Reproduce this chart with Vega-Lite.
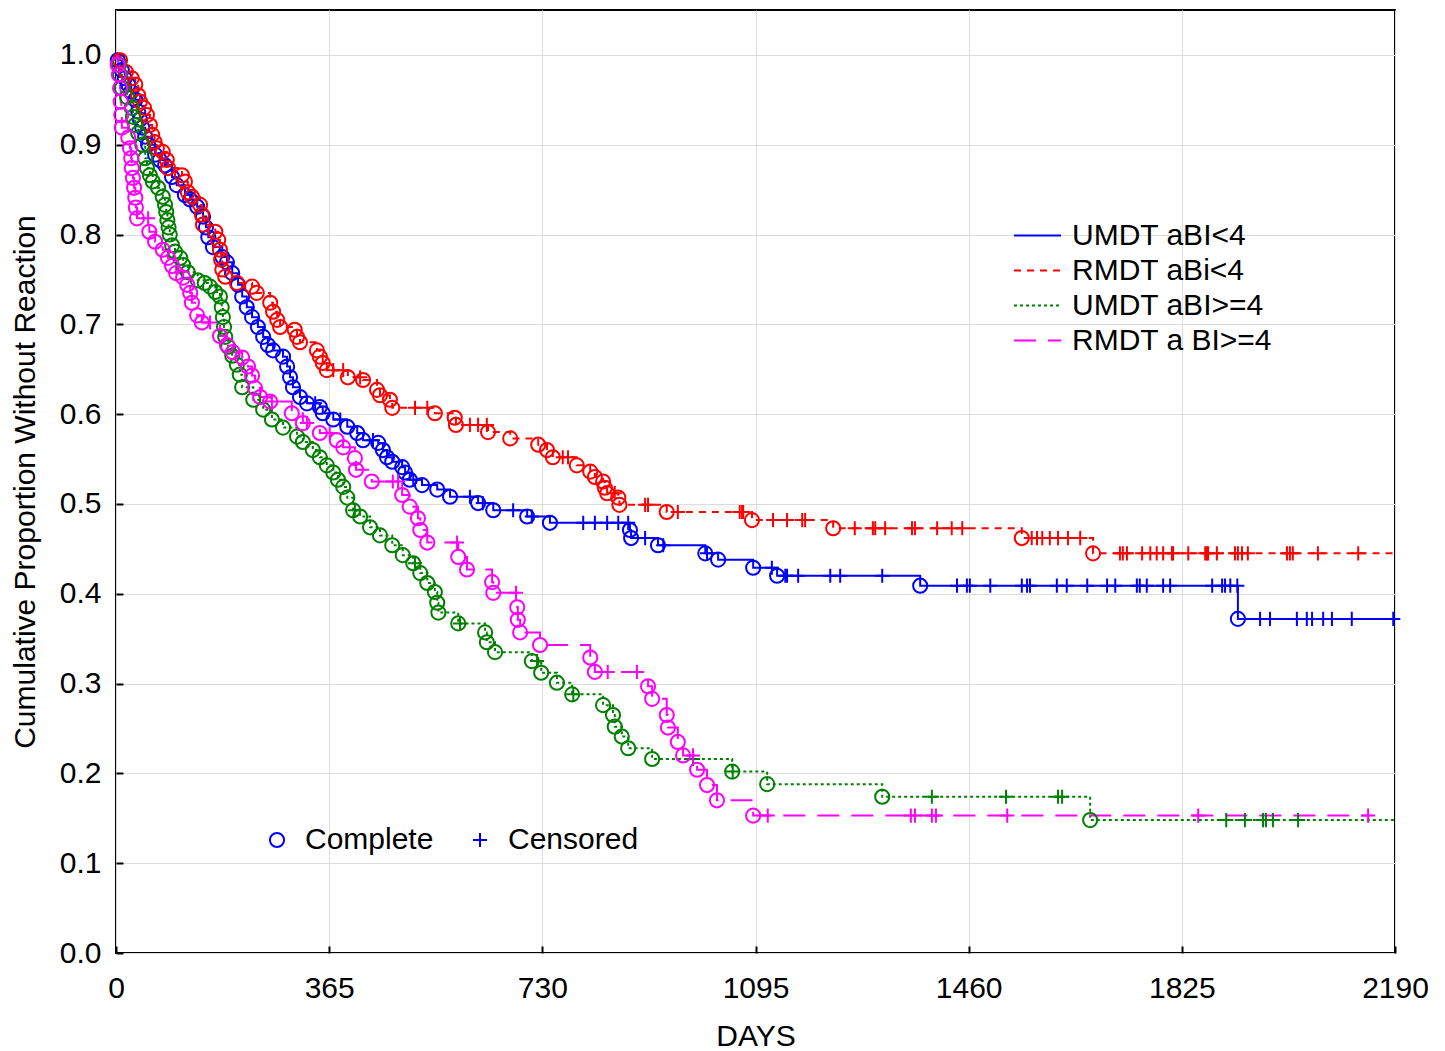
{
"$schema": "https://vega.github.io/schema/vega-lite/v6.json",
"width": 1279, "height": 943,
"autosize": {"type": "none"},
"padding": {"left": 116, "top": 10, "right": 50, "bottom": 98},
"background": "white",
"config": {"view": {"stroke": "black", "strokeWidth": 2}, "font": "Liberation Sans"},
"datasets": {"km": [
{"group":"UMDT aBI<4","day":0,"surv":1.0,"type":"none"},
{"group":"UMDT aBI<4","day":3,"surv":0.994,"type":"Complete"},
{"group":"UMDT aBI<4","day":10,"surv":0.983,"type":"Complete"},
{"group":"UMDT aBI<4","day":15,"surv":0.974,"type":"Complete"},
{"group":"UMDT aBI<4","day":21,"surv":0.967,"type":"Complete"},
{"group":"UMDT aBI<4","day":26,"surv":0.959,"type":"Complete"},
{"group":"UMDT aBI<4","day":33,"surv":0.950,"type":"Complete"},
{"group":"UMDT aBI<4","day":38,"surv":0.937,"type":"Complete"},
{"group":"UMDT aBI<4","day":41,"surv":0.928,"type":"Complete"},
{"group":"UMDT aBI<4","day":45,"surv":0.919,"type":"Complete"},
{"group":"UMDT aBI<4","day":50,"surv":0.909,"type":"Complete"},
{"group":"UMDT aBI<4","day":55,"surv":0.900,"type":"Complete"},
{"group":"UMDT aBI<4","day":67,"surv":0.889,"type":"Complete"},
{"group":"UMDT aBI<4","day":75,"surv":0.883,"type":"Complete"},
{"group":"UMDT aBI<4","day":84,"surv":0.877,"type":"Complete"},
{"group":"UMDT aBI<4","day":96,"surv":0.864,"type":"Complete"},
{"group":"UMDT aBI<4","day":104,"surv":0.855,"type":"Complete"},
{"group":"UMDT aBI<4","day":118,"surv":0.844,"type":"Complete"},
{"group":"UMDT aBI<4","day":127,"surv":0.839,"type":"Complete"},
{"group":"UMDT aBI<4","day":139,"surv":0.831,"type":"Complete"},
{"group":"UMDT aBI<4","day":149,"surv":0.820,"type":"Complete"},
{"group":"UMDT aBI<4","day":154,"surv":0.808,"type":"Complete"},
{"group":"UMDT aBI<4","day":158,"surv":0.797,"type":"Complete"},
{"group":"UMDT aBI<4","day":166,"surv":0.786,"type":"Complete"},
{"group":"UMDT aBI<4","day":182,"surv":0.775,"type":"Complete"},
{"group":"UMDT aBI<4","day":190,"surv":0.769,"type":"Complete"},
{"group":"UMDT aBI<4","day":199,"surv":0.757,"type":"Complete"},
{"group":"UMDT aBI<4","day":209,"surv":0.744,"type":"Complete"},
{"group":"UMDT aBI<4","day":216,"surv":0.731,"type":"Complete"},
{"group":"UMDT aBI<4","day":224,"surv":0.719,"type":"Complete"},
{"group":"UMDT aBI<4","day":233,"surv":0.708,"type":"Complete"},
{"group":"UMDT aBI<4","day":243,"surv":0.697,"type":"Complete"},
{"group":"UMDT aBI<4","day":252,"surv":0.686,"type":"Complete"},
{"group":"UMDT aBI<4","day":260,"surv":0.677,"type":"Complete"},
{"group":"UMDT aBI<4","day":269,"surv":0.671,"type":"Complete"},
{"group":"UMDT aBI<4","day":286,"surv":0.664,"type":"Complete"},
{"group":"UMDT aBI<4","day":293,"surv":0.653,"type":"Complete"},
{"group":"UMDT aBI<4","day":298,"surv":0.641,"type":"Complete"},
{"group":"UMDT aBI<4","day":303,"surv":0.630,"type":"Complete"},
{"group":"UMDT aBI<4","day":315,"surv":0.619,"type":"Complete"},
{"group":"UMDT aBI<4","day":327,"surv":0.612,"type":"Complete"},
{"group":"UMDT aBI<4","day":341,"surv":0.612,"type":"Censored"},
{"group":"UMDT aBI<4","day":349,"surv":0.608,"type":"Complete"},
{"group":"UMDT aBI<4","day":354,"surv":0.601,"type":"Complete"},
{"group":"UMDT aBI<4","day":372,"surv":0.594,"type":"Complete"},
{"group":"UMDT aBI<4","day":384,"surv":0.594,"type":"Censored"},
{"group":"UMDT aBI<4","day":396,"surv":0.586,"type":"Complete"},
{"group":"UMDT aBI<4","day":413,"surv":0.579,"type":"Complete"},
{"group":"UMDT aBI<4","day":423,"surv":0.571,"type":"Complete"},
{"group":"UMDT aBI<4","day":440,"surv":0.571,"type":"Censored"},
{"group":"UMDT aBI<4","day":449,"surv":0.568,"type":"Complete"},
{"group":"UMDT aBI<4","day":457,"surv":0.560,"type":"Complete"},
{"group":"UMDT aBI<4","day":464,"surv":0.552,"type":"Complete"},
{"group":"UMDT aBI<4","day":473,"surv":0.547,"type":"Complete"},
{"group":"UMDT aBI<4","day":490,"surv":0.541,"type":"Complete"},
{"group":"UMDT aBI<4","day":495,"surv":0.535,"type":"Complete"},
{"group":"UMDT aBI<4","day":503,"surv":0.527,"type":"Complete"},
{"group":"UMDT aBI<4","day":509,"surv":0.527,"type":"Censored"},
{"group":"UMDT aBI<4","day":524,"surv":0.521,"type":"Complete"},
{"group":"UMDT aBI<4","day":550,"surv":0.516,"type":"Complete"},
{"group":"UMDT aBI<4","day":572,"surv":0.508,"type":"Complete"},
{"group":"UMDT aBI<4","day":606,"surv":0.508,"type":"Censored"},
{"group":"UMDT aBI<4","day":620,"surv":0.501,"type":"Complete"},
{"group":"UMDT aBI<4","day":628,"surv":0.501,"type":"Censored"},
{"group":"UMDT aBI<4","day":646,"surv":0.493,"type":"Complete"},
{"group":"UMDT aBI<4","day":680,"surv":0.493,"type":"Censored"},
{"group":"UMDT aBI<4","day":704,"surv":0.486,"type":"Complete"},
{"group":"UMDT aBI<4","day":712,"surv":0.486,"type":"Censored"},
{"group":"UMDT aBI<4","day":743,"surv":0.479,"type":"Complete"},
{"group":"UMDT aBI<4","day":800,"surv":0.479,"type":"Censored"},
{"group":"UMDT aBI<4","day":820,"surv":0.479,"type":"Censored"},
{"group":"UMDT aBI<4","day":841,"surv":0.479,"type":"Censored"},
{"group":"UMDT aBI<4","day":860,"surv":0.479,"type":"Censored"},
{"group":"UMDT aBI<4","day":877,"surv":0.479,"type":"Censored"},
{"group":"UMDT aBI<4","day":880,"surv":0.471,"type":"Complete"},
{"group":"UMDT aBI<4","day":882,"surv":0.462,"type":"Complete"},
{"group":"UMDT aBI<4","day":906,"surv":0.462,"type":"Censored"},
{"group":"UMDT aBI<4","day":928,"surv":0.454,"type":"Complete"},
{"group":"UMDT aBI<4","day":937,"surv":0.454,"type":"Censored"},
{"group":"UMDT aBI<4","day":1009,"surv":0.445,"type":"Complete"},
{"group":"UMDT aBI<4","day":1012,"surv":0.445,"type":"Censored"},
{"group":"UMDT aBI<4","day":1031,"surv":0.438,"type":"Complete"},
{"group":"UMDT aBI<4","day":1091,"surv":0.429,"type":"Complete"},
{"group":"UMDT aBI<4","day":1123,"surv":0.429,"type":"Censored"},
{"group":"UMDT aBI<4","day":1132,"surv":0.420,"type":"Complete"},
{"group":"UMDT aBI<4","day":1146,"surv":0.420,"type":"Censored"},
{"group":"UMDT aBI<4","day":1149,"surv":0.420,"type":"Censored"},
{"group":"UMDT aBI<4","day":1168,"surv":0.420,"type":"Censored"},
{"group":"UMDT aBI<4","day":1223,"surv":0.420,"type":"Censored"},
{"group":"UMDT aBI<4","day":1240,"surv":0.420,"type":"Censored"},
{"group":"UMDT aBI<4","day":1312,"surv":0.420,"type":"Censored"},
{"group":"UMDT aBI<4","day":1377,"surv":0.409,"type":"Complete"},
{"group":"UMDT aBI<4","day":1440,"surv":0.409,"type":"Censored"},
{"group":"UMDT aBI<4","day":1457,"surv":0.409,"type":"Censored"},
{"group":"UMDT aBI<4","day":1462,"surv":0.409,"type":"Censored"},
{"group":"UMDT aBI<4","day":1497,"surv":0.409,"type":"Censored"},
{"group":"UMDT aBI<4","day":1551,"surv":0.409,"type":"Censored"},
{"group":"UMDT aBI<4","day":1560,"surv":0.409,"type":"Censored"},
{"group":"UMDT aBI<4","day":1565,"surv":0.409,"type":"Censored"},
{"group":"UMDT aBI<4","day":1611,"surv":0.409,"type":"Censored"},
{"group":"UMDT aBI<4","day":1628,"surv":0.409,"type":"Censored"},
{"group":"UMDT aBI<4","day":1663,"surv":0.409,"type":"Censored"},
{"group":"UMDT aBI<4","day":1697,"surv":0.409,"type":"Censored"},
{"group":"UMDT aBI<4","day":1711,"surv":0.409,"type":"Censored"},
{"group":"UMDT aBI<4","day":1748,"surv":0.409,"type":"Censored"},
{"group":"UMDT aBI<4","day":1753,"surv":0.409,"type":"Censored"},
{"group":"UMDT aBI<4","day":1765,"surv":0.409,"type":"Censored"},
{"group":"UMDT aBI<4","day":1793,"surv":0.409,"type":"Censored"},
{"group":"UMDT aBI<4","day":1805,"surv":0.409,"type":"Censored"},
{"group":"UMDT aBI<4","day":1877,"surv":0.409,"type":"Censored"},
{"group":"UMDT aBI<4","day":1894,"surv":0.409,"type":"Censored"},
{"group":"UMDT aBI<4","day":1899,"surv":0.409,"type":"Censored"},
{"group":"UMDT aBI<4","day":1908,"surv":0.409,"type":"Censored"},
{"group":"UMDT aBI<4","day":1920,"surv":0.409,"type":"Censored"},
{"group":"UMDT aBI<4","day":1921,"surv":0.372,"type":"Complete"},
{"group":"UMDT aBI<4","day":1959,"surv":0.372,"type":"Censored"},
{"group":"UMDT aBI<4","day":1976,"surv":0.372,"type":"Censored"},
{"group":"UMDT aBI<4","day":2022,"surv":0.372,"type":"Censored"},
{"group":"UMDT aBI<4","day":2039,"surv":0.372,"type":"Censored"},
{"group":"UMDT aBI<4","day":2048,"surv":0.372,"type":"Censored"},
{"group":"UMDT aBI<4","day":2067,"surv":0.372,"type":"Censored"},
{"group":"UMDT aBI<4","day":2082,"surv":0.372,"type":"Censored"},
{"group":"UMDT aBI<4","day":2116,"surv":0.372,"type":"Censored"},
{"group":"UMDT aBI<4","day":2187,"surv":0.372,"type":"Censored"},

{"group":"RMDT aBi<4","day":0,"surv":1.0,"type":"none"},
{"group":"RMDT aBi<4","day":7,"surv":0.994,"type":"Complete"},
{"group":"RMDT aBi<4","day":17,"surv":0.981,"type":"Complete"},
{"group":"RMDT aBi<4","day":27,"surv":0.974,"type":"Complete"},
{"group":"RMDT aBi<4","day":33,"surv":0.967,"type":"Complete"},
{"group":"RMDT aBi<4","day":38,"surv":0.955,"type":"Complete"},
{"group":"RMDT aBi<4","day":41,"surv":0.948,"type":"Complete"},
{"group":"RMDT aBi<4","day":48,"surv":0.941,"type":"Complete"},
{"group":"RMDT aBi<4","day":53,"surv":0.933,"type":"Complete"},
{"group":"RMDT aBi<4","day":58,"surv":0.922,"type":"Complete"},
{"group":"RMDT aBi<4","day":62,"surv":0.911,"type":"Complete"},
{"group":"RMDT aBi<4","day":66,"surv":0.903,"type":"Complete"},
{"group":"RMDT aBi<4","day":70,"surv":0.896,"type":"Complete"},
{"group":"RMDT aBi<4","day":80,"surv":0.892,"type":"Complete"},
{"group":"RMDT aBi<4","day":87,"surv":0.883,"type":"Complete"},
{"group":"RMDT aBi<4","day":89,"surv":0.874,"type":"Complete"},
{"group":"RMDT aBi<4","day":113,"surv":0.866,"type":"Complete"},
{"group":"RMDT aBi<4","day":118,"surv":0.859,"type":"Complete"},
{"group":"RMDT aBi<4","day":123,"surv":0.847,"type":"Complete"},
{"group":"RMDT aBi<4","day":130,"surv":0.842,"type":"Complete"},
{"group":"RMDT aBi<4","day":144,"surv":0.833,"type":"Complete"},
{"group":"RMDT aBi<4","day":147,"surv":0.822,"type":"Complete"},
{"group":"RMDT aBi<4","day":149,"surv":0.811,"type":"Complete"},
{"group":"RMDT aBi<4","day":170,"surv":0.803,"type":"Complete"},
{"group":"RMDT aBi<4","day":175,"surv":0.794,"type":"Complete"},
{"group":"RMDT aBi<4","day":178,"surv":0.783,"type":"Complete"},
{"group":"RMDT aBi<4","day":180,"surv":0.772,"type":"Complete"},
{"group":"RMDT aBi<4","day":182,"surv":0.761,"type":"Complete"},
{"group":"RMDT aBi<4","day":187,"surv":0.753,"type":"Complete"},
{"group":"RMDT aBi<4","day":207,"surv":0.746,"type":"Complete"},
{"group":"RMDT aBi<4","day":233,"surv":0.742,"type":"Complete"},
{"group":"RMDT aBi<4","day":241,"surv":0.735,"type":"Complete"},
{"group":"RMDT aBi<4","day":264,"surv":0.724,"type":"Complete"},
{"group":"RMDT aBi<4","day":269,"surv":0.714,"type":"Complete"},
{"group":"RMDT aBi<4","day":276,"surv":0.705,"type":"Complete"},
{"group":"RMDT aBi<4","day":281,"surv":0.697,"type":"Complete"},
{"group":"RMDT aBi<4","day":306,"surv":0.694,"type":"Complete"},
{"group":"RMDT aBi<4","day":310,"surv":0.686,"type":"Complete"},
{"group":"RMDT aBi<4","day":315,"surv":0.680,"type":"Complete"},
{"group":"RMDT aBi<4","day":344,"surv":0.671,"type":"Complete"},
{"group":"RMDT aBi<4","day":349,"surv":0.664,"type":"Complete"},
{"group":"RMDT aBi<4","day":354,"surv":0.657,"type":"Complete"},
{"group":"RMDT aBi<4","day":361,"surv":0.649,"type":"Complete"},
{"group":"RMDT aBi<4","day":372,"surv":0.649,"type":"Censored"},
{"group":"RMDT aBi<4","day":389,"surv":0.649,"type":"Censored"},
{"group":"RMDT aBi<4","day":397,"surv":0.641,"type":"Complete"},
{"group":"RMDT aBi<4","day":418,"surv":0.641,"type":"Censored"},
{"group":"RMDT aBi<4","day":423,"surv":0.638,"type":"Complete"},
{"group":"RMDT aBi<4","day":447,"surv":0.627,"type":"Complete"},
{"group":"RMDT aBi<4","day":452,"surv":0.621,"type":"Complete"},
{"group":"RMDT aBi<4","day":469,"surv":0.616,"type":"Complete"},
{"group":"RMDT aBi<4","day":473,"surv":0.607,"type":"Complete"},
{"group":"RMDT aBi<4","day":512,"surv":0.607,"type":"Censored"},
{"group":"RMDT aBi<4","day":533,"surv":0.607,"type":"Censored"},
{"group":"RMDT aBi<4","day":546,"surv":0.601,"type":"Complete"},
{"group":"RMDT aBi<4","day":580,"surv":0.596,"type":"Complete"},
{"group":"RMDT aBi<4","day":582,"surv":0.588,"type":"Complete"},
{"group":"RMDT aBi<4","day":606,"surv":0.588,"type":"Censored"},
{"group":"RMDT aBi<4","day":620,"surv":0.588,"type":"Censored"},
{"group":"RMDT aBi<4","day":635,"surv":0.588,"type":"Censored"},
{"group":"RMDT aBi<4","day":637,"surv":0.580,"type":"Complete"},
{"group":"RMDT aBi<4","day":675,"surv":0.573,"type":"Complete"},
{"group":"RMDT aBi<4","day":723,"surv":0.566,"type":"Complete"},
{"group":"RMDT aBi<4","day":738,"surv":0.560,"type":"Complete"},
{"group":"RMDT aBi<4","day":748,"surv":0.552,"type":"Complete"},
{"group":"RMDT aBi<4","day":765,"surv":0.552,"type":"Censored"},
{"group":"RMDT aBi<4","day":774,"surv":0.552,"type":"Censored"},
{"group":"RMDT aBi<4","day":789,"surv":0.543,"type":"Complete"},
{"group":"RMDT aBi<4","day":812,"surv":0.536,"type":"Complete"},
{"group":"RMDT aBi<4","day":820,"surv":0.530,"type":"Complete"},
{"group":"RMDT aBi<4","day":834,"surv":0.525,"type":"Complete"},
{"group":"RMDT aBi<4","day":837,"surv":0.518,"type":"Complete"},
{"group":"RMDT aBi<4","day":841,"surv":0.512,"type":"Complete"},
{"group":"RMDT aBi<4","day":854,"surv":0.512,"type":"Censored"},
{"group":"RMDT aBi<4","day":860,"surv":0.507,"type":"Complete"},
{"group":"RMDT aBi<4","day":862,"surv":0.499,"type":"Complete"},
{"group":"RMDT aBi<4","day":906,"surv":0.499,"type":"Censored"},
{"group":"RMDT aBi<4","day":911,"surv":0.499,"type":"Censored"},
{"group":"RMDT aBi<4","day":943,"surv":0.491,"type":"Complete"},
{"group":"RMDT aBi<4","day":962,"surv":0.491,"type":"Censored"},
{"group":"RMDT aBi<4","day":1068,"surv":0.491,"type":"Censored"},
{"group":"RMDT aBi<4","day":1072,"surv":0.491,"type":"Censored"},
{"group":"RMDT aBi<4","day":1074,"surv":0.491,"type":"Censored"},
{"group":"RMDT aBi<4","day":1089,"surv":0.482,"type":"Complete"},
{"group":"RMDT aBi<4","day":1125,"surv":0.482,"type":"Censored"},
{"group":"RMDT aBi<4","day":1149,"surv":0.482,"type":"Censored"},
{"group":"RMDT aBi<4","day":1175,"surv":0.482,"type":"Censored"},
{"group":"RMDT aBi<4","day":1180,"surv":0.482,"type":"Censored"},
{"group":"RMDT aBi<4","day":1228,"surv":0.473,"type":"Complete"},
{"group":"RMDT aBi<4","day":1265,"surv":0.473,"type":"Censored"},
{"group":"RMDT aBi<4","day":1296,"surv":0.473,"type":"Censored"},
{"group":"RMDT aBi<4","day":1300,"surv":0.473,"type":"Censored"},
{"group":"RMDT aBi<4","day":1317,"surv":0.473,"type":"Censored"},
{"group":"RMDT aBi<4","day":1363,"surv":0.473,"type":"Censored"},
{"group":"RMDT aBi<4","day":1368,"surv":0.473,"type":"Censored"},
{"group":"RMDT aBi<4","day":1406,"surv":0.473,"type":"Censored"},
{"group":"RMDT aBi<4","day":1431,"surv":0.473,"type":"Censored"},
{"group":"RMDT aBi<4","day":1449,"surv":0.473,"type":"Censored"},
{"group":"RMDT aBi<4","day":1551,"surv":0.462,"type":"Complete"},
{"group":"RMDT aBi<4","day":1568,"surv":0.462,"type":"Censored"},
{"group":"RMDT aBi<4","day":1577,"surv":0.462,"type":"Censored"},
{"group":"RMDT aBi<4","day":1586,"surv":0.462,"type":"Censored"},
{"group":"RMDT aBi<4","day":1599,"surv":0.462,"type":"Censored"},
{"group":"RMDT aBi<4","day":1613,"surv":0.462,"type":"Censored"},
{"group":"RMDT aBi<4","day":1630,"surv":0.462,"type":"Censored"},
{"group":"RMDT aBi<4","day":1651,"surv":0.462,"type":"Censored"},
{"group":"RMDT aBi<4","day":1673,"surv":0.445,"type":"Complete"},
{"group":"RMDT aBi<4","day":1719,"surv":0.445,"type":"Censored"},
{"group":"RMDT aBi<4","day":1724,"surv":0.445,"type":"Censored"},
{"group":"RMDT aBi<4","day":1731,"surv":0.445,"type":"Censored"},
{"group":"RMDT aBi<4","day":1757,"surv":0.445,"type":"Censored"},
{"group":"RMDT aBi<4","day":1771,"surv":0.445,"type":"Censored"},
{"group":"RMDT aBi<4","day":1782,"surv":0.445,"type":"Censored"},
{"group":"RMDT aBi<4","day":1793,"surv":0.445,"type":"Censored"},
{"group":"RMDT aBi<4","day":1808,"surv":0.445,"type":"Censored"},
{"group":"RMDT aBi<4","day":1810,"surv":0.445,"type":"Censored"},
{"group":"RMDT aBi<4","day":1836,"surv":0.445,"type":"Censored"},
{"group":"RMDT aBi<4","day":1865,"surv":0.445,"type":"Censored"},
{"group":"RMDT aBi<4","day":1868,"surv":0.445,"type":"Censored"},
{"group":"RMDT aBi<4","day":1870,"surv":0.445,"type":"Censored"},
{"group":"RMDT aBi<4","day":1885,"surv":0.445,"type":"Censored"},
{"group":"RMDT aBi<4","day":1916,"surv":0.445,"type":"Censored"},
{"group":"RMDT aBi<4","day":1921,"surv":0.445,"type":"Censored"},
{"group":"RMDT aBi<4","day":1928,"surv":0.445,"type":"Censored"},
{"group":"RMDT aBi<4","day":1938,"surv":0.445,"type":"Censored"},
{"group":"RMDT aBi<4","day":2005,"surv":0.445,"type":"Censored"},
{"group":"RMDT aBi<4","day":2010,"surv":0.445,"type":"Censored"},
{"group":"RMDT aBi<4","day":2015,"surv":0.445,"type":"Censored"},
{"group":"RMDT aBi<4","day":2058,"surv":0.445,"type":"Censored"},
{"group":"RMDT aBi<4","day":2127,"surv":0.445,"type":"Censored"},
{"group":"RMDT aBi<4","day":2190,"surv":0.445,"type":"none"},

{"group":"UMDT aBI>=4","day":0,"surv":1.0,"type":"none"},
{"group":"UMDT aBI>=4","day":5,"surv":0.989,"type":"Complete"},
{"group":"UMDT aBI>=4","day":7,"surv":0.978,"type":"Complete"},
{"group":"UMDT aBI>=4","day":10,"surv":0.963,"type":"Complete"},
{"group":"UMDT aBI>=4","day":19,"surv":0.953,"type":"Complete"},
{"group":"UMDT aBI>=4","day":27,"surv":0.941,"type":"Complete"},
{"group":"UMDT aBI>=4","day":29,"surv":0.931,"type":"Complete"},
{"group":"UMDT aBI>=4","day":33,"surv":0.922,"type":"Complete"},
{"group":"UMDT aBI>=4","day":38,"surv":0.913,"type":"Complete"},
{"group":"UMDT aBI>=4","day":45,"surv":0.900,"type":"Complete"},
{"group":"UMDT aBI>=4","day":50,"surv":0.885,"type":"Complete"},
{"group":"UMDT aBI>=4","day":53,"surv":0.874,"type":"Complete"},
{"group":"UMDT aBI>=4","day":58,"surv":0.866,"type":"Complete"},
{"group":"UMDT aBI>=4","day":63,"surv":0.859,"type":"Complete"},
{"group":"UMDT aBI>=4","day":72,"surv":0.852,"type":"Complete"},
{"group":"UMDT aBI>=4","day":80,"surv":0.842,"type":"Complete"},
{"group":"UMDT aBI>=4","day":84,"surv":0.833,"type":"Complete"},
{"group":"UMDT aBI>=4","day":86,"surv":0.825,"type":"Complete"},
{"group":"UMDT aBI>=4","day":88,"surv":0.816,"type":"Complete"},
{"group":"UMDT aBI>=4","day":90,"surv":0.808,"type":"Complete"},
{"group":"UMDT aBI>=4","day":92,"surv":0.800,"type":"Complete"},
{"group":"UMDT aBI>=4","day":96,"surv":0.788,"type":"Complete"},
{"group":"UMDT aBI>=4","day":101,"surv":0.781,"type":"Complete"},
{"group":"UMDT aBI>=4","day":110,"surv":0.774,"type":"Complete"},
{"group":"UMDT aBI>=4","day":115,"surv":0.766,"type":"Complete"},
{"group":"UMDT aBI>=4","day":123,"surv":0.758,"type":"Complete"},
{"group":"UMDT aBI>=4","day":140,"surv":0.749,"type":"Complete"},
{"group":"UMDT aBI>=4","day":152,"surv":0.746,"type":"Complete"},
{"group":"UMDT aBI>=4","day":161,"surv":0.742,"type":"Complete"},
{"group":"UMDT aBI>=4","day":170,"surv":0.736,"type":"Complete"},
{"group":"UMDT aBI>=4","day":178,"surv":0.731,"type":"Complete"},
{"group":"UMDT aBI>=4","day":181,"surv":0.719,"type":"Complete"},
{"group":"UMDT aBI>=4","day":183,"surv":0.708,"type":"Complete"},
{"group":"UMDT aBI>=4","day":185,"surv":0.697,"type":"Complete"},
{"group":"UMDT aBI>=4","day":187,"surv":0.686,"type":"Complete"},
{"group":"UMDT aBI>=4","day":192,"surv":0.675,"type":"Complete"},
{"group":"UMDT aBI>=4","day":199,"surv":0.665,"type":"Complete"},
{"group":"UMDT aBI>=4","day":207,"surv":0.655,"type":"Complete"},
{"group":"UMDT aBI>=4","day":212,"surv":0.644,"type":"Complete"},
{"group":"UMDT aBI>=4","day":216,"surv":0.630,"type":"Complete"},
{"group":"UMDT aBI>=4","day":235,"surv":0.616,"type":"Complete"},
{"group":"UMDT aBI>=4","day":252,"surv":0.605,"type":"Complete"},
{"group":"UMDT aBI>=4","day":267,"surv":0.594,"type":"Complete"},
{"group":"UMDT aBI>=4","day":286,"surv":0.585,"type":"Complete"},
{"group":"UMDT aBI>=4","day":310,"surv":0.575,"type":"Complete"},
{"group":"UMDT aBI>=4","day":320,"surv":0.569,"type":"Complete"},
{"group":"UMDT aBI>=4","day":337,"surv":0.560,"type":"Complete"},
{"group":"UMDT aBI>=4","day":349,"surv":0.552,"type":"Complete"},
{"group":"UMDT aBI>=4","day":361,"surv":0.543,"type":"Complete"},
{"group":"UMDT aBI>=4","day":372,"surv":0.535,"type":"Complete"},
{"group":"UMDT aBI>=4","day":380,"surv":0.527,"type":"Complete"},
{"group":"UMDT aBI>=4","day":389,"surv":0.519,"type":"Complete"},
{"group":"UMDT aBI>=4","day":396,"surv":0.507,"type":"Complete"},
{"group":"UMDT aBI>=4","day":406,"surv":0.493,"type":"Complete"},
{"group":"UMDT aBI>=4","day":409,"surv":0.493,"type":"Censored"},
{"group":"UMDT aBI>=4","day":418,"surv":0.486,"type":"Complete"},
{"group":"UMDT aBI>=4","day":435,"surv":0.474,"type":"Complete"},
{"group":"UMDT aBI>=4","day":452,"surv":0.465,"type":"Complete"},
{"group":"UMDT aBI>=4","day":473,"surv":0.454,"type":"Complete"},
{"group":"UMDT aBI>=4","day":491,"surv":0.443,"type":"Complete"},
{"group":"UMDT aBI>=4","day":509,"surv":0.434,"type":"Complete"},
{"group":"UMDT aBI>=4","day":512,"surv":0.434,"type":"Censored"},
{"group":"UMDT aBI>=4","day":521,"surv":0.423,"type":"Complete"},
{"group":"UMDT aBI>=4","day":533,"surv":0.412,"type":"Complete"},
{"group":"UMDT aBI>=4","day":546,"surv":0.402,"type":"Complete"},
{"group":"UMDT aBI>=4","day":550,"surv":0.390,"type":"Complete"},
{"group":"UMDT aBI>=4","day":552,"surv":0.379,"type":"Complete"},
{"group":"UMDT aBI>=4","day":586,"surv":0.367,"type":"Complete"},
{"group":"UMDT aBI>=4","day":589,"surv":0.367,"type":"Censored"},
{"group":"UMDT aBI>=4","day":632,"surv":0.357,"type":"Complete"},
{"group":"UMDT aBI>=4","day":635,"surv":0.346,"type":"Complete"},
{"group":"UMDT aBI>=4","day":649,"surv":0.335,"type":"Complete"},
{"group":"UMDT aBI>=4","day":712,"surv":0.325,"type":"Complete"},
{"group":"UMDT aBI>=4","day":721,"surv":0.325,"type":"Censored"},
{"group":"UMDT aBI>=4","day":728,"surv":0.312,"type":"Complete"},
{"group":"UMDT aBI>=4","day":755,"surv":0.301,"type":"Complete"},
{"group":"UMDT aBI>=4","day":781,"surv":0.288,"type":"Complete"},
{"group":"UMDT aBI>=4","day":783,"surv":0.288,"type":"Censored"},
{"group":"UMDT aBI>=4","day":834,"surv":0.276,"type":"Complete"},
{"group":"UMDT aBI>=4","day":851,"surv":0.265,"type":"Complete"},
{"group":"UMDT aBI>=4","day":854,"surv":0.252,"type":"Complete"},
{"group":"UMDT aBI>=4","day":866,"surv":0.241,"type":"Complete"},
{"group":"UMDT aBI>=4","day":877,"surv":0.228,"type":"Complete"},
{"group":"UMDT aBI>=4","day":918,"surv":0.216,"type":"Complete"},
{"group":"UMDT aBI>=4","day":988,"surv":0.216,"type":"Censored"},
{"group":"UMDT aBI>=4","day":1055,"surv":0.202,"type":"Complete"},
{"group":"UMDT aBI>=4","day":1056,"surv":0.202,"type":"Censored"},
{"group":"UMDT aBI>=4","day":1115,"surv":0.188,"type":"Complete"},
{"group":"UMDT aBI>=4","day":1312,"surv":0.174,"type":"Complete"},
{"group":"UMDT aBI>=4","day":1397,"surv":0.174,"type":"Censored"},
{"group":"UMDT aBI>=4","day":1524,"surv":0.174,"type":"Censored"},
{"group":"UMDT aBI>=4","day":1613,"surv":0.174,"type":"Censored"},
{"group":"UMDT aBI>=4","day":1620,"surv":0.174,"type":"Censored"},
{"group":"UMDT aBI>=4","day":1668,"surv":0.148,"type":"Complete"},
{"group":"UMDT aBI>=4","day":1901,"surv":0.148,"type":"Censored"},
{"group":"UMDT aBI>=4","day":1933,"surv":0.148,"type":"Censored"},
{"group":"UMDT aBI>=4","day":1964,"surv":0.148,"type":"Censored"},
{"group":"UMDT aBI>=4","day":1969,"surv":0.148,"type":"Censored"},
{"group":"UMDT aBI>=4","day":1981,"surv":0.148,"type":"Censored"},
{"group":"UMDT aBI>=4","day":2024,"surv":0.148,"type":"Censored"},
{"group":"UMDT aBI>=4","day":2190,"surv":0.148,"type":"none"},

{"group":"RMDT a BI>=4","day":0,"surv":1.0,"type":"none"},
{"group":"RMDT a BI>=4","day":3,"surv":0.989,"type":"Complete"},
{"group":"RMDT a BI>=4","day":5,"surv":0.978,"type":"Complete"},
{"group":"RMDT a BI>=4","day":7,"surv":0.963,"type":"Complete"},
{"group":"RMDT a BI>=4","day":8,"surv":0.948,"type":"Complete"},
{"group":"RMDT a BI>=4","day":9,"surv":0.933,"type":"Complete"},
{"group":"RMDT a BI>=4","day":10,"surv":0.919,"type":"Complete"},
{"group":"RMDT a BI>=4","day":21,"surv":0.908,"type":"Complete"},
{"group":"RMDT a BI>=4","day":24,"surv":0.896,"type":"Complete"},
{"group":"RMDT a BI>=4","day":26,"surv":0.885,"type":"Complete"},
{"group":"RMDT a BI>=4","day":27,"surv":0.874,"type":"Complete"},
{"group":"RMDT a BI>=4","day":29,"surv":0.863,"type":"Complete"},
{"group":"RMDT a BI>=4","day":31,"surv":0.852,"type":"Complete"},
{"group":"RMDT a BI>=4","day":33,"surv":0.841,"type":"Complete"},
{"group":"RMDT a BI>=4","day":34,"surv":0.830,"type":"Complete"},
{"group":"RMDT a BI>=4","day":36,"surv":0.818,"type":"Complete"},
{"group":"RMDT a BI>=4","day":55,"surv":0.818,"type":"Censored"},
{"group":"RMDT a BI>=4","day":57,"surv":0.803,"type":"Complete"},
{"group":"RMDT a BI>=4","day":67,"surv":0.792,"type":"Complete"},
{"group":"RMDT a BI>=4","day":80,"surv":0.783,"type":"Complete"},
{"group":"RMDT a BI>=4","day":89,"surv":0.774,"type":"Complete"},
{"group":"RMDT a BI>=4","day":96,"surv":0.765,"type":"Complete"},
{"group":"RMDT a BI>=4","day":103,"surv":0.757,"type":"Complete"},
{"group":"RMDT a BI>=4","day":115,"surv":0.752,"type":"Complete"},
{"group":"RMDT a BI>=4","day":122,"surv":0.744,"type":"Complete"},
{"group":"RMDT a BI>=4","day":127,"surv":0.735,"type":"Complete"},
{"group":"RMDT a BI>=4","day":130,"surv":0.724,"type":"Complete"},
{"group":"RMDT a BI>=4","day":139,"surv":0.710,"type":"Complete"},
{"group":"RMDT a BI>=4","day":147,"surv":0.702,"type":"Complete"},
{"group":"RMDT a BI>=4","day":161,"surv":0.702,"type":"Censored"},
{"group":"RMDT a BI>=4","day":178,"surv":0.687,"type":"Complete"},
{"group":"RMDT a BI>=4","day":190,"surv":0.677,"type":"Complete"},
{"group":"RMDT a BI>=4","day":200,"surv":0.669,"type":"Complete"},
{"group":"RMDT a BI>=4","day":216,"surv":0.663,"type":"Complete"},
{"group":"RMDT a BI>=4","day":226,"surv":0.653,"type":"Complete"},
{"group":"RMDT a BI>=4","day":233,"surv":0.643,"type":"Complete"},
{"group":"RMDT a BI>=4","day":238,"surv":0.629,"type":"Complete"},
{"group":"RMDT a BI>=4","day":247,"surv":0.619,"type":"Complete"},
{"group":"RMDT a BI>=4","day":264,"surv":0.614,"type":"Complete"},
{"group":"RMDT a BI>=4","day":267,"surv":0.614,"type":"Censored"},
{"group":"RMDT a BI>=4","day":301,"surv":0.601,"type":"Complete"},
{"group":"RMDT a BI>=4","day":320,"surv":0.590,"type":"Complete"},
{"group":"RMDT a BI>=4","day":327,"surv":0.590,"type":"Censored"},
{"group":"RMDT a BI>=4","day":349,"surv":0.579,"type":"Complete"},
{"group":"RMDT a BI>=4","day":366,"surv":0.579,"type":"Censored"},
{"group":"RMDT a BI>=4","day":378,"surv":0.571,"type":"Complete"},
{"group":"RMDT a BI>=4","day":389,"surv":0.563,"type":"Complete"},
{"group":"RMDT a BI>=4","day":409,"surv":0.551,"type":"Complete"},
{"group":"RMDT a BI>=4","day":411,"surv":0.538,"type":"Complete"},
{"group":"RMDT a BI>=4","day":438,"surv":0.525,"type":"Complete"},
{"group":"RMDT a BI>=4","day":474,"surv":0.525,"type":"Censored"},
{"group":"RMDT a BI>=4","day":483,"surv":0.525,"type":"Censored"},
{"group":"RMDT a BI>=4","day":490,"surv":0.510,"type":"Complete"},
{"group":"RMDT a BI>=4","day":503,"surv":0.497,"type":"Complete"},
{"group":"RMDT a BI>=4","day":517,"surv":0.484,"type":"Complete"},
{"group":"RMDT a BI>=4","day":521,"surv":0.471,"type":"Complete"},
{"group":"RMDT a BI>=4","day":533,"surv":0.457,"type":"Complete"},
{"group":"RMDT a BI>=4","day":584,"surv":0.457,"type":"Censored"},
{"group":"RMDT a BI>=4","day":586,"surv":0.441,"type":"Complete"},
{"group":"RMDT a BI>=4","day":601,"surv":0.427,"type":"Complete"},
{"group":"RMDT a BI>=4","day":644,"surv":0.413,"type":"Complete"},
{"group":"RMDT a BI>=4","day":646,"surv":0.401,"type":"Complete"},
{"group":"RMDT a BI>=4","day":685,"surv":0.401,"type":"Censored"},
{"group":"RMDT a BI>=4","day":687,"surv":0.385,"type":"Complete"},
{"group":"RMDT a BI>=4","day":688,"surv":0.371,"type":"Complete"},
{"group":"RMDT a BI>=4","day":692,"surv":0.357,"type":"Complete"},
{"group":"RMDT a BI>=4","day":726,"surv":0.343,"type":"Complete"},
{"group":"RMDT a BI>=4","day":812,"surv":0.329,"type":"Complete"},
{"group":"RMDT a BI>=4","day":820,"surv":0.313,"type":"Complete"},
{"group":"RMDT a BI>=4","day":842,"surv":0.313,"type":"Censored"},
{"group":"RMDT a BI>=4","day":892,"surv":0.313,"type":"Censored"},
{"group":"RMDT a BI>=4","day":911,"surv":0.297,"type":"Complete"},
{"group":"RMDT a BI>=4","day":918,"surv":0.283,"type":"Complete"},
{"group":"RMDT a BI>=4","day":943,"surv":0.265,"type":"Complete"},
{"group":"RMDT a BI>=4","day":945,"surv":0.251,"type":"Complete"},
{"group":"RMDT a BI>=4","day":962,"surv":0.235,"type":"Complete"},
{"group":"RMDT a BI>=4","day":971,"surv":0.220,"type":"Complete"},
{"group":"RMDT a BI>=4","day":988,"surv":0.220,"type":"Censored"},
{"group":"RMDT a BI>=4","day":995,"surv":0.204,"type":"Complete"},
{"group":"RMDT a BI>=4","day":1012,"surv":0.187,"type":"Complete"},
{"group":"RMDT a BI>=4","day":1029,"surv":0.170,"type":"Complete"},
{"group":"RMDT a BI>=4","day":1091,"surv":0.153,"type":"Complete"},
{"group":"RMDT a BI>=4","day":1116,"surv":0.153,"type":"Censored"},
{"group":"RMDT a BI>=4","day":1361,"surv":0.153,"type":"Censored"},
{"group":"RMDT a BI>=4","day":1368,"surv":0.153,"type":"Censored"},
{"group":"RMDT a BI>=4","day":1397,"surv":0.153,"type":"Censored"},
{"group":"RMDT a BI>=4","day":1404,"surv":0.153,"type":"Censored"},
{"group":"RMDT a BI>=4","day":1526,"surv":0.153,"type":"Censored"},
{"group":"RMDT a BI>=4","day":1853,"surv":0.153,"type":"Censored"},
{"group":"RMDT a BI>=4","day":2144,"surv":0.153,"type":"Censored"}
]},
"data": {"name": "km"},
"encoding": {
  "x": {"field": "day", "type": "quantitative",
        "scale": {"domain": [0, 2190], "nice": false, "zero": false},
        "axis": {"values": [0, 365, 730, 1095, 1460, 1825, 2190], "format": "d", "title": "DAYS",
                 "titleFontSize": 30, "titleFontWeight": "normal", "titleColor": "black", "titleFont": "Liberation Sans",
                 "titleBaseline": "alphabetic", "titleY": 92,
                 "labelFontSize": 30, "labelColor": "black", "labelFont": "Liberation Sans", "labelPadding": 27,
                 "labelFlush": false, "labelOverlap": false,
                 "tickSize": -7, "tickColor": "black", "tickWidth": 2,
                 "domain": false, "grid": true, "gridColor": "#dcdcdc", "gridWidth": 1}},
  "y": {"field": "surv", "type": "quantitative",
        "scale": {"domain": [0, 1.05], "nice": false},
        "axis": {"values": [0, 0.1, 0.2, 0.3, 0.4, 0.5, 0.6, 0.7, 0.8, 0.9, 1.0], "format": ".1f",
                 "title": "Cumulative Proportion Without Reaction",
                 "titleFontSize": 30, "titleFontWeight": "normal", "titleColor": "black", "titleFont": "Liberation Sans",
                 "titleBaseline": "alphabetic", "titleX": -82, "titleY": 471.5,
                 "labelFontSize": 30, "labelColor": "black", "labelFont": "Liberation Sans", "labelPadding": 22,
                 "labelFlush": false, "labelOverlap": false,
                 "tickSize": -7, "tickColor": "black", "tickWidth": 2,
                 "domain": false, "grid": true, "gridColor": "#dcdcdc", "gridWidth": 1}}
},
"layer": [
  {"mark": {"type": "line", "interpolate": "step-after", "strokeWidth": 2},
   "encoding": {
     "color": {"field": "group", "type": "nominal",
               "scale": {"domain": ["UMDT aBI<4", "RMDT aBi<4", "UMDT aBI>=4", "RMDT a BI>=4"],
                         "range": ["#0000ff", "#ff0000", "#008000", "#ff00ff"]},
               "legend": {"orient": "none", "legendX": 897, "legendY": 208, "title": null,
                          "labelFontSize": 30, "labelColor": "black", "labelFont": "Liberation Sans", "labelLimit": 0,
                          "symbolType": "stroke", "symbolSize": 2209, "symbolStrokeWidth": 2,
                          "labelOffset": 10, "clipHeight": 35, "rowPadding": 0, "padding": 0}},
     "strokeDash": {"field": "group", "type": "nominal",
               "scale": {"domain": ["UMDT aBI<4", "RMDT aBi<4", "UMDT aBI>=4", "RMDT a BI>=4"],
                         "range": [[1, 0], [7, 6], [3, 3], [22, 12]]},
               "legend": {"orient": "none", "legendX": 897, "legendY": 208, "title": null,
                          "labelFontSize": 30, "labelColor": "black", "labelFont": "Liberation Sans", "labelLimit": 0,
                          "symbolType": "stroke", "symbolSize": 2209, "symbolStrokeWidth": 2,
                          "labelOffset": 10, "clipHeight": 35, "rowPadding": 0, "padding": 0}}
   }},
  {"transform": [{"filter": "datum.type !== 'none'"}],
   "mark": {"type": "point", "filled": false, "strokeWidth": 2, "size": 200, "opacity": 1},
   "encoding": {
     "color": {"field": "group", "type": "nominal", "legend": null},
     "shape": {"field": "type", "type": "nominal",
               "scale": {"domain": ["Complete", "Censored"], "range": ["circle", "M-1,0H1M0,-1V1"]},
               "legend": {"orient": "none", "legendX": 146, "legendY": 815, "direction": "horizontal", "title": null,
                          "labelFontSize": 30, "labelColor": "black", "labelFont": "Liberation Sans", "labelLimit": 0,
                          "symbolSize": 200, "symbolStrokeColor": "#0000ff", "symbolFillColor": "transparent",
                          "symbolStrokeWidth": 2, "labelOffset": 13, "columnPadding": 31, "clipHeight": 30, "padding": 0}}
   }}
]
}
